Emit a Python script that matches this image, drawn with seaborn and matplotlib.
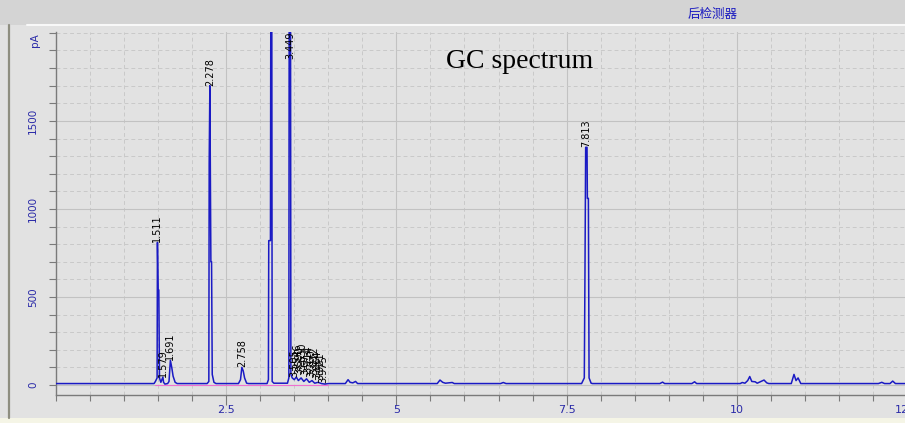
import numpy as np
import pandas as pd
import matplotlib
matplotlib.use("Agg")
import matplotlib.pyplot as plt
import seaborn as sns
from matplotlib.ticker import MultipleLocator, FixedLocator
from matplotlib.patches import Rectangle
from matplotlib.lines import Line2D

# ---------------- data ----------------
times = [0.00, 1.44, 1.46, 1.485, 1.49, 1.50, 1.51, 1.52, 1.54, 1.57, 1.58, 1.60, 1.64,
         1.66, 1.68, 1.70, 1.72, 1.75, 1.78,
         2.22, 2.245, 2.25, 2.26, 2.275, 2.285, 2.295, 2.32, 2.35,
         2.68, 2.71, 2.73, 2.75, 2.77, 2.80, 2.83,
         3.10, 3.12, 3.125, 3.15, 3.155, 3.17, 3.175, 3.20,
         3.40, 3.42, 3.425, 3.445, 3.45, 3.47, 3.50, 3.53, 3.56, 3.60, 3.64, 3.68,
         3.72, 3.76, 3.80, 3.85, 3.90, 3.95, 4.00,
         4.25, 4.29, 4.32, 4.36, 4.40, 4.43,
         5.60, 5.64, 5.68, 5.72, 5.82, 5.85, 5.88,
         6.53, 6.57, 6.61,
         7.72, 7.76, 7.77, 7.78, 7.80, 7.805, 7.82, 7.83, 7.86, 7.88,
         8.87, 8.91, 8.94,
         9.34, 9.38, 9.41,
         10.05, 10.08, 10.12, 10.16, 10.19, 10.22, 10.27, 10.30, 10.40, 10.44, 10.47,
         10.80, 10.84, 10.87, 10.90, 10.94,
         12.08, 12.13, 12.17, 12.25, 12.29, 12.33, 12.50]
signal = [8, 8, 20, 40, 810, 540, 540, 40, 15, 45, 15, 5, 8,
          20, 140, 100, 50, 15, 8,
          8, 20, 1260, 1700, 700, 700, 60, 15, 8,
          8, 30, 100, 80, 40, 10, 8,
          8, 30, 820, 820, 2100, 2100, 20, 10,
          10, 40, 2100, 2100, 60, 40, 30, 45, 25, 40, 20, 35,
          15, 25, 10, 15, 8, 5, 8,
          8, 30, 15, 12, 20, 8,
          8, 28, 15, 10, 14, 8, 8,
          8, 14, 8,
          8, 40, 650, 1350, 1350, 1060, 1060, 40, 10, 8,
          8, 16, 8,
          8, 18, 8,
          8, 14, 10, 25, 48, 20, 18, 10, 28, 12, 8,
          8, 60, 25, 40, 8,
          8, 15, 8, 8, 22, 8, 8]

peak_names = ["1.511", "1.579", "1.691", "2.278", "2.758", "3.449", "7.813"]
peak_x = [1.49, 1.57, 1.68, 2.26, 2.73, 3.435, 7.785]
peak_y = [810, 45, 140, 1700, 100, 1850, 1350]

cluster_names = ["3.505", "3.546", "3.590", "3.630", "3.672", "3.714",
                 "3.760", "3.812", "3.864", "3.921", "3.975"]
cluster_x = [3.50, 3.54, 3.58, 3.62, 3.66, 3.70, 3.75, 3.79, 3.84, 3.88, 3.93]
cluster_y = [45, 80, 60, 85, 55, 70, 45, 60, 40, 30, 10]

x_ticks = [2.5, 5, 7.5, 10, 12.5]
x_tick_labels = ["2.5", "5", "7.5", "10", "12.5"]
y_ticks = [0, 500, 1000, 1500]
y_tick_labels = ["0", "500", "1000", "1500"]

title_text = "GC spectrum"
detector_text = "后检测器"
unit_text = "pA"

df = pd.DataFrame({"time": times, "signal": signal})

# ---------------- styling ----------------
sns.set_theme(style="white")
plt.rcParams['font.family'] = ['DejaVu Sans', 'Noto Sans CJK SC']

W, H = 905, 423
BG = "#e2e2e2"
BLUE_TXT = "#2a2aa8"
TRACE = "#1a1ac4"

fig = plt.figure(figsize=(W / 100, H / 100), dpi=100, facecolor=BG)

# decorations of the instrument window
fig.patches.append(Rectangle((0, 1 - 25 / H), 1, 25 / H, transform=fig.transFigure,
                             facecolor="#d4d4d4", edgecolor="none", zorder=0))
fig.lines.append(Line2D([27 / W, 1], [1 - 25.5 / H, 1 - 25.5 / H], transform=fig.transFigure,
                        color="#f8f8f8", lw=1.5, zorder=1))
fig.patches.append(Rectangle((0, 0), 1, 5 / H, transform=fig.transFigure,
                             facecolor="#f5f5e6", edgecolor="none", zorder=0))
fig.lines.append(Line2D([9 / W, 9 / W], [5 / H, 1 - 25 / H], transform=fig.transFigure,
                        color="#8e8e80", lw=1.6, zorder=1))

ax = fig.add_axes([56 / W, (H - 395) / H, (907 - 56) / W, (395 - 32) / H])
ax.set_facecolor(BG)

sns.lineplot(data=df, x="time", y="signal", sort=False, estimator=None,
             color=TRACE, lw=1.1, ax=ax, zorder=3)

# pink baseline under the integrated region
ax.plot([1.45, 4.0], [2, 2], color="#f070d0", lw=0.8, zorder=2)

ax.set_xlim(0, 12.5)
ax.set_ylim(-57, 2005)
ax.set_xlabel("")
ax.set_ylabel("")

ax.xaxis.set_major_locator(FixedLocator(x_ticks))
ax.xaxis.set_minor_locator(MultipleLocator(0.5))
ax.yaxis.set_major_locator(FixedLocator(y_ticks))
ax.yaxis.set_minor_locator(MultipleLocator(100))
ax.set_xticklabels(x_tick_labels)
ax.set_yticklabels(y_tick_labels, rotation=90, va="center")

ax.grid(which="major", color="#c2c2c2", lw=0.8, ls="-")
ax.grid(which="minor", color="#c9c9c9", lw=0.7, ls=(0, (4, 3)))
ax.set_axisbelow(True)

for s in ["top", "right"]:
    ax.spines[s].set_visible(False)
for s in ["left", "bottom"]:
    ax.spines[s].set_color("#7a7a7a")
    ax.spines[s].set_linewidth(1.0)

ax.tick_params(axis="y", which="both", direction="out", length=5, width=0.8,
               color="#7a7a7a", left=True, labelsize=7.5, labelcolor=BLUE_TXT, pad=8)
ax.tick_params(axis="x", which="minor", direction="out", length=4, width=0.8,
               color="#7a7a7a", bottom=True)
ax.tick_params(axis="x", which="major", direction="out", length=7, width=0.8,
               color="#7a7a7a", bottom=True, labelsize=8, labelcolor=BLUE_TXT, pad=0.5)

# peak labels
for name, x, y in zip(peak_names, peak_x, peak_y):
    ax.text(x, y, name, rotation=90, ha="center", va="bottom", fontsize=7,
            color="black", zorder=4, clip_on=True)
for name, x, y in zip(cluster_names, cluster_x, cluster_y):
    ax.text(x, y, name, rotation=90, ha="center", va="bottom", fontsize=7,
            color="black", zorder=4, clip_on=True)

# texts
fig.text(35 / W, 1 - 40 / H, unit_text, rotation=90, ha="center", va="center",
         fontsize=7.5, color=BLUE_TXT)
fig.text(520 / W, 1 - 62 / H, title_text, ha="center", va="center",
         fontsize=20, family="Liberation Serif", color="black")
fig.text(713 / W, 1 - 14 / H, detector_text, ha="center", va="center",
         fontsize=9, family=["Noto Sans CJK SC", "DejaVu Sans"], color="#1a1ac0")

fig.savefig("out.png", dpi=100, facecolor=fig.get_facecolor())
